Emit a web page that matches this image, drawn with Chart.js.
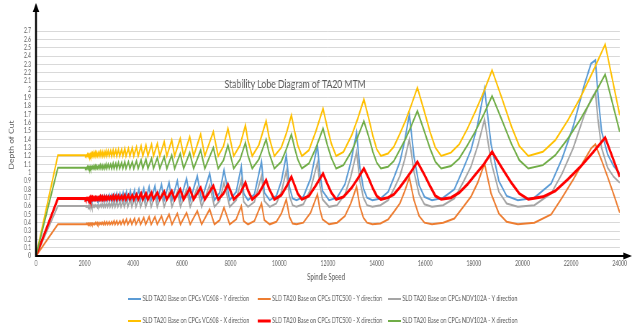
<!DOCTYPE html>
<html>
<head>
<meta charset="utf-8">
<script src="https://cdn.jsdelivr.net/npm/chart.js@4.4.0/dist/chart.umd.min.js"></script>
<style>
  html, body { margin: 0; padding: 0; background: #fff; overflow: hidden; }
  /* the source picture is an Excel chart squeezed sideways, so draw wide and squeeze */
  #wrap { width: 885px; height: 326px; transform: scaleX(0.7198); transform-origin: 0 0; }
</style>
</head>
<body>
<div id="wrap"><canvas id="sld" width="885" height="326"></canvas></div>
<script>
// spindle speeds (rpm) sampled along the Y-direction lobes
const speedsY = [
  0, 900,
  2040, 2057, 2090, 2107, 2140, 2157, 2190, 2207, 2240, 2257, 2285, 2300,
  2330, 2350, 2390, 2410, 2450, 2475, 2520, 2545, 2590, 2620, 2670, 2695, 2740, 2770, 2820, 2850, 2910, 2945,
  3010, 3045, 3110, 3145, 3210, 3250, 3320, 3365, 3450, 3495, 3580, 3630, 3720, 3775, 3880, 3940,
  4050, 4110, 4230, 4300, 4430, 4510, 4650, 4735, 4890, 4985, 5160, 5270, 5470, 5590, 5810, 5940,
  6190, 6340, 6630, 6810, 7140, 7335, 7550, 7730, 7965, 8230,
  8440, 8540, 8715, 8980, 9270, 9390, 9610, 9880, 10090,
  10290, 10420, 10550, 10710, 10990, 11290,
  11570, 11670, 11780, 12050, 12380, 12700, 12940,
  13180, 13310, 13460, 13610, 13830, 14160, 14480, 14740, 14960, 15150,
  15350, 15540, 15750, 15970, 16280, 16740, 17200, 17570, 17880, 18160,
  18440, 18710, 19030, 19350, 19810, 20490, 21180, 21630, 22090, 22540, 22820,
  23000, 23100, 23250, 23500, 23750, 24000
];

const vc608Y = [
  0, 0.69,
  0.68, 0.67, 0.68, 0.67, 0.68, 0.67, 0.69, 0.67, 0.69, 0.67, 0.69, 0.67,
  0.69, 0.67, 0.69, 0.67, 0.70, 0.67, 0.70, 0.67, 0.70, 0.67, 0.71, 0.67, 0.71, 0.67, 0.72, 0.67, 0.72, 0.67,
  0.73, 0.67, 0.73, 0.67, 0.74, 0.67, 0.75, 0.67, 0.75, 0.67, 0.76, 0.67, 0.77, 0.67, 0.78, 0.67,
  0.79, 0.67, 0.80, 0.67, 0.81, 0.67, 0.83, 0.67, 0.84, 0.67, 0.86, 0.67, 0.88, 0.67, 0.90, 0.67,
  0.93, 0.67, 0.96, 0.67, 0.99, 0.67, 0.76, 1.03, 0.67, 0.77,
  1.07, 0.75, 0.67, 0.74, 1.13, 0.76, 0.67, 0.72, 0.90,
  1.21, 0.83, 0.69, 0.67, 0.71, 0.93,
  1.33, 1.00, 0.78, 0.67, 0.70, 0.86, 1.12,
  1.48, 1.07, 0.81, 0.70, 0.67, 0.69, 0.77, 0.96, 1.13, 1.37,
  1.70, 1.19, 0.85, 0.71, 0.67, 0.70, 0.80, 1.05, 1.27, 1.58,
  2.01, 1.34, 0.90, 0.72, 0.67, 0.70, 0.87, 1.17, 1.56, 2.05, 2.31,
  2.35, 1.95, 1.50, 1.22, 1.08, 0.99
];

const dtc500Y = [
  0, 0.38,
  0.38, 0.38, 0.39, 0.38, 0.39, 0.38, 0.39, 0.38, 0.39, 0.38, 0.39, 0.38,
  0.39, 0.38, 0.39, 0.38, 0.40, 0.38, 0.40, 0.38, 0.40, 0.38, 0.40, 0.38, 0.40, 0.38, 0.41, 0.38, 0.41, 0.38,
  0.41, 0.38, 0.41, 0.38, 0.42, 0.38, 0.42, 0.38, 0.42, 0.38, 0.43, 0.38, 0.44, 0.38, 0.44, 0.38,
  0.45, 0.38, 0.45, 0.38, 0.46, 0.38, 0.47, 0.38, 0.47, 0.38, 0.48, 0.38, 0.50, 0.38, 0.51, 0.38,
  0.52, 0.38, 0.54, 0.38, 0.56, 0.38, 0.43, 0.58, 0.38, 0.44,
  0.60, 0.42, 0.38, 0.42, 0.63, 0.43, 0.38, 0.41, 0.51,
  0.68, 0.47, 0.39, 0.38, 0.40, 0.52,
  0.74, 0.56, 0.44, 0.38, 0.40, 0.48, 0.63,
  0.83, 0.60, 0.46, 0.40, 0.38, 0.39, 0.44, 0.54, 0.63, 0.77,
  0.94, 0.67, 0.48, 0.40, 0.38, 0.40, 0.45, 0.59, 0.71, 0.88,
  1.11, 0.75, 0.51, 0.41, 0.38, 0.40, 0.50, 0.70, 0.92, 1.15, 1.29,
  1.34, 1.26, 1.15, 0.95, 0.74, 0.52
];

const ndv102aY = [
  0, 0.60,
  0.60, 0.59, 0.60, 0.59, 0.60, 0.59, 0.61, 0.59, 0.61, 0.59, 0.61, 0.59,
  0.61, 0.59, 0.61, 0.59, 0.61, 0.59, 0.61, 0.59, 0.61, 0.59, 0.62, 0.59, 0.62, 0.59, 0.63, 0.59, 0.63, 0.59,
  0.64, 0.59, 0.64, 0.59, 0.65, 0.59, 0.65, 0.59, 0.65, 0.59, 0.66, 0.59, 0.67, 0.59, 0.68, 0.59,
  0.69, 0.59, 0.69, 0.59, 0.70, 0.59, 0.72, 0.59, 0.73, 0.59, 0.74, 0.59, 0.76, 0.59, 0.77, 0.59,
  0.80, 0.59, 0.82, 0.59, 0.85, 0.59, 0.66, 0.88, 0.59, 0.67,
  0.91, 0.65, 0.59, 0.65, 0.96, 0.66, 0.59, 0.63, 0.77,
  1.02, 0.72, 0.61, 0.59, 0.62, 0.80,
  1.12, 0.85, 0.68, 0.59, 0.61, 0.74, 0.95,
  1.25, 0.91, 0.70, 0.61, 0.59, 0.61, 0.67, 0.82, 0.96, 1.15,
  1.40, 1.01, 0.74, 0.62, 0.59, 0.61, 0.69, 0.89, 1.07, 1.32,
  1.64, 1.13, 0.77, 0.63, 0.59, 0.61, 0.75, 0.99, 1.30, 1.69, 1.88,
  1.97, 1.65, 1.30, 1.06, 0.95, 0.88
];

// spindle speeds (rpm) sampled along the X-direction lobes
const speedsX = [
  0, 900,
  2020, 2037, 2070, 2087, 2120, 2137, 2170, 2187, 2220, 2237, 2270, 2287,
  2320, 2340, 2380, 2400, 2440, 2460, 2500, 2525, 2570, 2595, 2640, 2670, 2720, 2750, 2800, 2830, 2880, 2910, 2970, 3010,
  3070, 3110, 3170, 3210, 3280, 3320, 3390, 3440, 3520, 3570, 3650, 3700, 3800, 3860, 3960, 4020,
  4130, 4200, 4320, 4390, 4520, 4600, 4750, 4830, 4990, 5090, 5270, 5380, 5580, 5700, 5930, 6070,
  6320, 6480, 6770, 6940, 7290, 7490, 7710, 7890, 8130, 8390,
  8610, 8710, 8890, 9160, 9460, 9580, 9800, 10080, 10290,
  10500, 10630, 10760, 10930, 11220, 11510,
  11800, 11970, 12140, 12340, 12640, 12980, 13230,
  13480, 13680, 13850, 14010, 14180, 14470, 14710, 14950, 15200, 15440,
  15680, 15960, 16200, 16420, 16660, 17060, 17400, 17740, 18070, 18410,
  18750, 19170, 19540, 19870, 20240, 20840, 21350, 21870, 22380, 22890,
  23400, 24000
];

const vc608X = [
  0, 1.21,
  1.21, 1.20, 1.21, 1.20, 1.22, 1.20, 1.22, 1.20, 1.22, 1.20, 1.23, 1.20,
  1.23, 1.20, 1.24, 1.20, 1.24, 1.20, 1.24, 1.20, 1.24, 1.20, 1.25, 1.20, 1.25, 1.20, 1.25, 1.20, 1.26, 1.20, 1.26, 1.20,
  1.26, 1.20, 1.27, 1.20, 1.27, 1.20, 1.28, 1.20, 1.28, 1.20, 1.29, 1.20, 1.29, 1.20, 1.30, 1.20,
  1.31, 1.20, 1.32, 1.20, 1.33, 1.20, 1.34, 1.20, 1.35, 1.20, 1.37, 1.20, 1.39, 1.20, 1.41, 1.20,
  1.43, 1.20, 1.46, 1.20, 1.49, 1.20, 1.32, 1.53, 1.20, 1.33,
  1.57, 1.39, 1.20, 1.33, 1.62, 1.43, 1.20, 1.30, 1.47,
  1.69, 1.50, 1.33, 1.20, 1.27, 1.50,
  1.77, 1.55, 1.35, 1.20, 1.25, 1.45, 1.65,
  1.88, 1.65, 1.44, 1.28, 1.20, 1.23, 1.31, 1.46, 1.63, 1.82,
  2.02, 1.74, 1.49, 1.30, 1.20, 1.24, 1.34, 1.53, 1.74, 1.97,
  2.23, 1.88, 1.56, 1.32, 1.20, 1.25, 1.39, 1.63, 1.90, 2.21,
  2.54, 1.69
];

const dtc500X = [
  0, 0.69,
  0.69, 0.68, 0.69, 0.68, 0.69, 0.68, 0.69, 0.68, 0.70, 0.68, 0.70, 0.68,
  0.70, 0.68, 0.70, 0.68, 0.70, 0.68, 0.70, 0.68, 0.70, 0.68, 0.71, 0.68, 0.71, 0.68, 0.71, 0.68, 0.71, 0.68, 0.71, 0.68,
  0.71, 0.68, 0.72, 0.68, 0.72, 0.68, 0.72, 0.68, 0.72, 0.68, 0.73, 0.68, 0.73, 0.68, 0.73, 0.68,
  0.74, 0.68, 0.75, 0.68, 0.75, 0.68, 0.76, 0.68, 0.76, 0.68, 0.77, 0.68, 0.78, 0.68, 0.80, 0.68,
  0.81, 0.68, 0.82, 0.68, 0.84, 0.68, 0.75, 0.86, 0.68, 0.75,
  0.88, 0.79, 0.68, 0.75, 0.91, 0.81, 0.68, 0.73, 0.83,
  0.95, 0.85, 0.75, 0.68, 0.72, 0.85,
  0.99, 0.87, 0.76, 0.68, 0.71, 0.82, 0.93,
  1.05, 0.93, 0.81, 0.72, 0.68, 0.70, 0.74, 0.82, 0.92, 1.02,
  1.13, 0.98, 0.84, 0.72, 0.68, 0.70, 0.76, 0.86, 0.98, 1.10,
  1.25, 1.05, 0.88, 0.75, 0.68, 0.71, 0.78, 0.92, 1.07, 1.24,
  1.42, 0.95
];

const ndv102aX = [
  0, 1.06,
  1.06, 1.05, 1.06, 1.05, 1.07, 1.05, 1.07, 1.05, 1.07, 1.05, 1.07, 1.05,
  1.07, 1.05, 1.08, 1.05, 1.08, 1.05, 1.08, 1.05, 1.08, 1.05, 1.09, 1.05, 1.09, 1.05, 1.09, 1.05, 1.10, 1.05, 1.10, 1.05,
  1.10, 1.05, 1.11, 1.05, 1.11, 1.05, 1.12, 1.05, 1.12, 1.05, 1.13, 1.05, 1.13, 1.05, 1.13, 1.05,
  1.14, 1.05, 1.15, 1.05, 1.16, 1.05, 1.17, 1.05, 1.18, 1.05, 1.19, 1.05, 1.21, 1.05, 1.23, 1.05,
  1.24, 1.05, 1.27, 1.05, 1.30, 1.05, 1.15, 1.33, 1.05, 1.16,
  1.36, 1.21, 1.05, 1.16, 1.40, 1.24, 1.05, 1.13, 1.28,
  1.46, 1.30, 1.16, 1.05, 1.11, 1.30,
  1.53, 1.34, 1.18, 1.05, 1.09, 1.26, 1.43,
  1.62, 1.43, 1.25, 1.12, 1.05, 1.07, 1.14, 1.27, 1.41, 1.57,
  1.74, 1.50, 1.29, 1.13, 1.05, 1.08, 1.17, 1.33, 1.50, 1.70,
  1.92, 1.62, 1.35, 1.15, 1.05, 1.09, 1.21, 1.41, 1.64, 1.90,
  2.18, 1.49
];

const seriesNames = [
  "SLD TA20 Base on CPCs VC608 - Y direction",
  "SLD TA20 Base on CPCs DTC500 - Y direction",
  "SLD TA20 Base on CPCs NDV102A - Y direction",
  "SLD TA20 Base on CPCs VC608 - X direction",
  "SLD TA20 Base on CPCs DTC500 - X direction",
  "SLD TA20 Base on CPCs NDV102A - X direction",
];
const seriesColors = ["#5b9bd5", "#ed7d31", "#a5a5a5", "#ffc000", "#ff0000", "#70ad47"];
const seriesWidths = [2, 2, 2, 2, 3, 2];

const xTicksMax = 24000;
const yTicksMax = 2.7;

const TEXT = "#595959";
Chart.defaults.font.family = "Lato, 'Open Sans', sans-serif";

function toPoints(speeds, depths) {
  return speeds.map((x, i) => ({ x, y: depths[i] }));
}

const seriesPoints = [
  toPoints(speedsY, vc608Y),
  toPoints(speedsY, dtc500Y),
  toPoints(speedsY, ndv102aY),
  toPoints(speedsX, vc608X),
  toPoints(speedsX, dtc500X),
  toPoints(speedsX, ndv102aX),
];

// axis lines with arrow heads, title inside the plot, axis titles and a 3x2 legend
const excelLook = {
  id: "excelLook",
  afterDatasetsDraw(chart) {
    const { ctx, chartArea: a } = chart;
    ctx.save();
    ctx.fillStyle = "#000";
    ctx.strokeStyle = "#000";

    ctx.lineWidth = 2.6;
    ctx.beginPath();
    ctx.moveTo(a.left, a.bottom + 1);
    ctx.lineTo(a.left, 10);
    ctx.stroke();
    ctx.beginPath();
    ctx.moveTo(a.left, 3);
    ctx.lineTo(a.left - 4.5, 12);
    ctx.lineTo(a.left + 4.5, 12);
    ctx.closePath();
    ctx.fill();

    ctx.lineWidth = 2;
    ctx.beginPath();
    ctx.moveTo(a.left - 1, a.bottom);
    ctx.lineTo(868, a.bottom);
    ctx.stroke();
    ctx.beginPath();
    ctx.moveTo(878, a.bottom);
    ctx.lineTo(866, a.bottom - 3.5);
    ctx.lineTo(866, a.bottom + 3.5);
    ctx.closePath();
    ctx.fill();
    ctx.restore();
  },
  afterDraw(chart) {
    const { ctx } = chart;
    ctx.save();
    ctx.fillStyle = TEXT;
    ctx.textBaseline = "middle";

    ctx.textAlign = "center";
    ctx.font = "12px Lato";
    ctx.fillText("Stability Lobe Diagram of TA20 MTM", 410, 84);

    ctx.font = "8.5px Lato";
    ctx.fillText("Spindle Speed", 453, 277);

    ctx.save();
    ctx.translate(16, 145);
    ctx.rotate(-Math.PI / 2);
    ctx.fillText("Depth of Cut", 0, 0);
    ctx.restore();

    ctx.textAlign = "left";
    ctx.font = "7.5px Lato";
    const cols = [178, 358, 539];
    const rows = [299, 321];
    seriesNames.forEach((name, i) => {
      const x = cols[i % 3];
      const y = rows[Math.floor(i / 3)];
      ctx.strokeStyle = seriesColors[i];
      ctx.lineWidth = seriesWidths[i];
      ctx.beginPath();
      ctx.moveTo(x, y);
      ctx.lineTo(x + 18, y);
      ctx.stroke();
      ctx.fillStyle = TEXT;
      ctx.fillText(name, x + 20, y);
    });
    ctx.restore();
  },
};

new Chart(document.getElementById("sld"), {
  type: "scatter",
  data: {
    datasets: seriesNames.map((label, i) => ({
      label,
      data: seriesPoints[i],
      showLine: true,
      borderColor: seriesColors[i],
      backgroundColor: seriesColors[i],
      borderWidth: seriesWidths[i],
      pointRadius: 0,
      tension: 0,
      order: 6 - i,
    })),
  },
  options: {
    responsive: false,
    animation: false,
    layout: { padding: { top: 31, right: 24, left: 0, bottom: 0 } },
    plugins: { legend: { display: false }, tooltip: { enabled: false } },
    scales: {
      x: {
        type: "linear",
        min: 0,
        max: xTicksMax,
        afterFit: (s) => { s.height = 70; },
        grid: { display: false, drawTicks: false },
        border: { display: false },
        ticks: {
          stepSize: 2000,
          padding: 4,
          autoSkip: false,
          maxRotation: 0,
          color: TEXT,
          font: { size: 7 },
          callback: (v) => String(v),
        },
      },
      y: {
        min: 0,
        max: yTicksMax,
        afterFit: (s) => { s.width = 50; },
        grid: { color: "#d9d9d9", drawTicks: false },
        border: { display: false },
        ticks: {
          stepSize: 0.1,
          padding: 7,
          autoSkip: false,
          color: TEXT,
          font: { size: 7 },
          callback: (v) => String(Math.round(v * 10) / 10),
        },
      },
    },
  },
  plugins: [excelLook],
});
</script>
</body>
</html>
